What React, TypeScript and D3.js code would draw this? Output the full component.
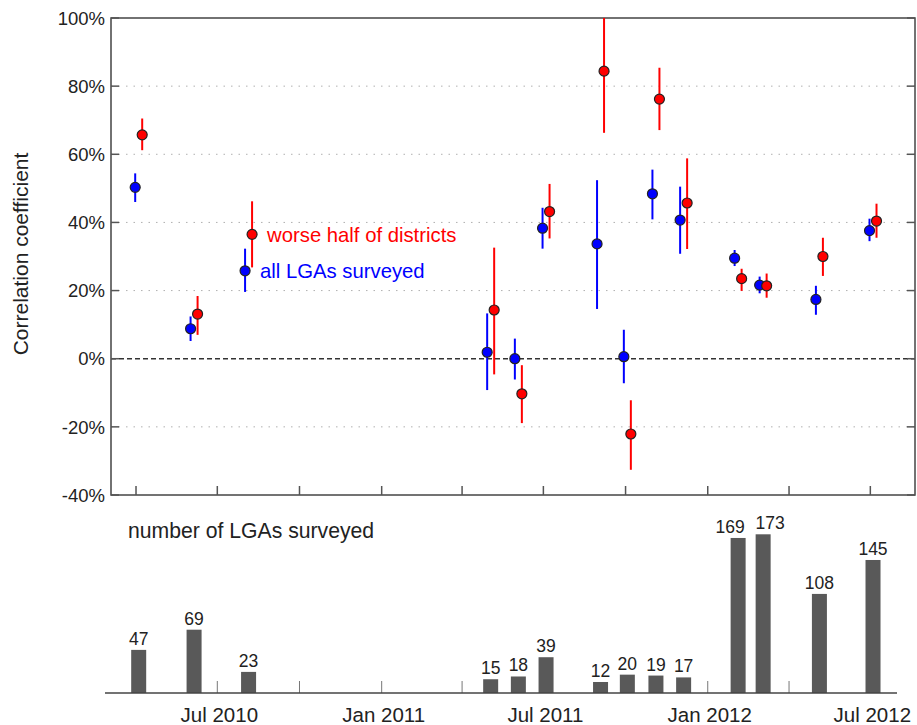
import React from "react";
import * as d3 from "d3";

// ---- data ----
const surveyDates = [
  "2010-04-04", "2010-06-05", "2010-08-05", "2011-05-03", "2011-06-03", "2011-07-04",
  "2011-09-03", "2011-10-03", "2011-11-04", "2011-12-05", "2012-02-04", "2012-03-03",
  "2012-05-05", "2012-07-04",
];
const lgaCounts = [47, 69, 23, 15, 18, 39, 12, 20, 19, 17, 169, 173, 108, 145];

const allMean = [50.3, 8.8, 25.8, 1.9, 0.0, 38.3, 33.7, 0.6, 48.4, 40.7, 29.5, 21.6, 17.4, 37.6];
const allLow = [46.0, 5.2, 19.6, -9.2, -6.1, 32.3, 14.6, -7.2, 40.9, 30.8, 27.2, 19.2, 12.9, 34.5];
const allHigh = [54.4, 12.4, 32.3, 13.3, 5.9, 44.3, 52.4, 8.5, 55.5, 50.5, 31.9, 24.1, 21.4, 41.1];

const worseMean = [65.7, 13.1, 36.5, 14.3, -10.3, 43.2, 84.4, -22.1, 76.2, 45.7, 23.5, 21.4, 30.0, 40.4];
const worseLow = [61.2, 7.0, 26.8, -4.6, -18.9, 35.3, 66.3, -32.6, 67.1, 32.2, 19.9, 17.9, 24.3, 35.5];
const worseHigh = [70.5, 18.4, 46.2, 32.6, -1.9, 51.3, 100, -12.2, 85.4, 58.8, 26.4, 25.0, 35.5, 45.5];

const yTicks = [-40, -20, 0, 20, 40, 60, 80, 100];
const xTickDates = [
  "2010-04-01", "2010-07-01", "2010-10-01", "2011-01-01", "2011-04-01", "2011-07-01",
  "2011-10-01", "2012-01-01", "2012-04-01", "2012-07-01",
];
const xLabelDates = ["2010-07-01", "2011-01-01", "2011-07-01", "2012-01-01", "2012-07-01"];

const seriesLabels = { worse: "worse half of districts", all: "all LGAs surveyed" };
const yTitle = "Correlation coefficient";
const barTitle = "number of LGAs surveyed";

const FONT = "'Liberation Sans', Arial, Helvetica, sans-serif";
const parse = d3.utcParse("%Y-%m-%d");
const fmt = d3.utcFormat("%b %Y");

export default function App() {
  const W = 917, H = 725;
  const left = 111, right = 915, top = 18, bottom = 495;
  const x = d3
    .scaleUtc()
    .domain([parse("2010-03-04")!, parse("2012-08-20")!])
    .range([left, right]);
  const y = d3.scaleLinear().domain([-40, 100]).range([bottom, top]);

  const barBase = 693;
  const yb = d3.scaleLinear().domain([0, 173]).range([barBase, 534.3]);
  const barW = 15;
  const off = 3.5;

  const dates = surveyDates.map((d) => parse(d)!);
  const bx = dates.map((d) => x(d));
  // nudge labels of very close, tall neighbouring bars apart
  const labelShift = bx.map((v, i) => {
    const prevClose = i > 0 && v - bx[i - 1] < 30 && lgaCounts[i] >= 100 && lgaCounts[i - 1] >= 100;
    const nextClose =
      i < bx.length - 1 && bx[i + 1] - v < 30 && lgaCounts[i] >= 100 && lgaCounts[i + 1] >= 100;
    return nextClose ? -8 : prevClose ? 7 : 0;
  });

  return (
    <svg
      width={W}
      height={H}
      style={{ position: "absolute", left: 0, top: 0, background: "#fff" }}
      fontFamily={FONT}
    >
      <rect x={0} y={0} width={W} height={H} fill="#fff" />
      {/* grid */}
      {yTicks
        .filter((t) => t !== 0 && t !== -40 && t !== 100)
        .map((t) => (
          <line
            key={"g" + t}
            x1={left}
            x2={right}
            y1={y(t)}
            y2={y(t)}
            stroke="#b0b0b0"
            strokeWidth={1}
            strokeDasharray="1.5,6"
          />
        ))}
      {/* zero line */}
      <line
        x1={left}
        x2={right}
        y1={y(0)}
        y2={y(0)}
        stroke="#333"
        strokeWidth={1.5}
        strokeDasharray="5,3"
      />
      {/* frame */}
      <rect
        x={left}
        y={top}
        width={right - left}
        height={bottom - top}
        fill="none"
        stroke="#444"
        strokeWidth={1.5}
      />
      {/* y ticks */}
      {yTicks.map((t) => (
        <g key={"yt" + t}>
          <line x1={left} x2={left + 8} y1={y(t)} y2={y(t)} stroke="#555" strokeWidth={1.5} />
          <line x1={right - 8} x2={right} y1={y(t)} y2={y(t)} stroke="#555" strokeWidth={1.5} />
          <text
            x={left - 6}
            y={y(t)}
            dy="0.36em"
            textAnchor="end"
            fontSize={18.5}
            fill="#222"
          >
            {t + "%"}
          </text>
        </g>
      ))}
      {/* x ticks top panel */}
      {xTickDates.map((d) => (
        <line
          key={"xt" + d}
          x1={x(parse(d)!)}
          x2={x(parse(d)!)}
          y1={bottom}
          y2={bottom - 9}
          stroke="#555"
          strokeWidth={1.5}
        />
      ))}
      <text
        transform={`translate(${28},${254}) rotate(-90)`}
        textAnchor="middle"
        fontSize={21}
        fill="#222"
      >
        {yTitle}
      </text>

      {/* error bars */}
      {dates.map((d, i) => (
        <line
          key={"a" + i}
          x1={x(d) - off}
          x2={x(d) - off}
          y1={y(allLow[i])}
          y2={y(allHigh[i])}
          stroke="#0000ff"
          strokeWidth={2}
        />
      ))}
      {dates.map((d, i) => (
        <line
          key={"w" + i}
          x1={x(d) + off}
          x2={x(d) + off}
          y1={y(worseLow[i])}
          y2={y(worseHigh[i])}
          stroke="#ff0000"
          strokeWidth={2}
        />
      ))}
      {dates.map((d, i) => (
        <circle
          key={"ac" + i}
          cx={x(d) - off}
          cy={y(allMean[i])}
          r={5}
          fill="#0000ff"
          stroke="#222"
          strokeWidth={1.2}
        />
      ))}
      {dates.map((d, i) => (
        <circle
          key={"wc" + i}
          cx={x(d) + off}
          cy={y(worseMean[i])}
          r={5}
          fill="#ff0000"
          stroke="#222"
          strokeWidth={1.2}
        />
      ))}
      {/* series labels next to the third survey */}
      <text
        x={x(dates[2]) + off + 15}
        y={y(worseMean[2])}
        dy="0.36em"
        fontSize={20.3}
        fill="#ff0000"
      >
        {seriesLabels.worse}
      </text>
      <text
        x={x(dates[2]) - off + 15}
        y={y(allMean[2])}
        dy="0.36em"
        fontSize={20.3}
        fill="#0000ff"
      >
        {seriesLabels.all}
      </text>

      {/* bottom panel */}
      <text x={128} y={537.5} fontSize={21.2} fill="#222">
        {barTitle}
      </text>
      {xTickDates.map((d) => (
        <line
          key={"bt" + d}
          x1={x(parse(d)!)}
          x2={x(parse(d)!)}
          y1={barBase}
          y2={barBase - 12}
          stroke="#777"
          strokeWidth={1}
        />
      ))}
      {dates.map((d, i) => (
        <g key={"b" + i}>
          <rect
            x={x(d) - barW / 2}
            y={yb(lgaCounts[i])}
            width={barW}
            height={barBase - yb(lgaCounts[i])}
            fill="#595959"
          />
          <text
            x={x(d) + labelShift[i]}
            y={yb(lgaCounts[i]) - 5}
            textAnchor="middle"
            fontSize={17.5}
            fill="#222"
          >
            {lgaCounts[i]}
          </text>
        </g>
      ))}
      <line x1={105} x2={897} y1={barBase} y2={barBase} stroke="#444" strokeWidth={1.5} />
      {xLabelDates.map((d) => (
        <text
          key={"xl" + d}
          x={x(parse(d)!) + 2}
          y={722}
          textAnchor="middle"
          fontSize={20.5}
          fill="#222"
        >
          {fmt(parse(d)!)}
        </text>
      ))}
    </svg>
  );
}
